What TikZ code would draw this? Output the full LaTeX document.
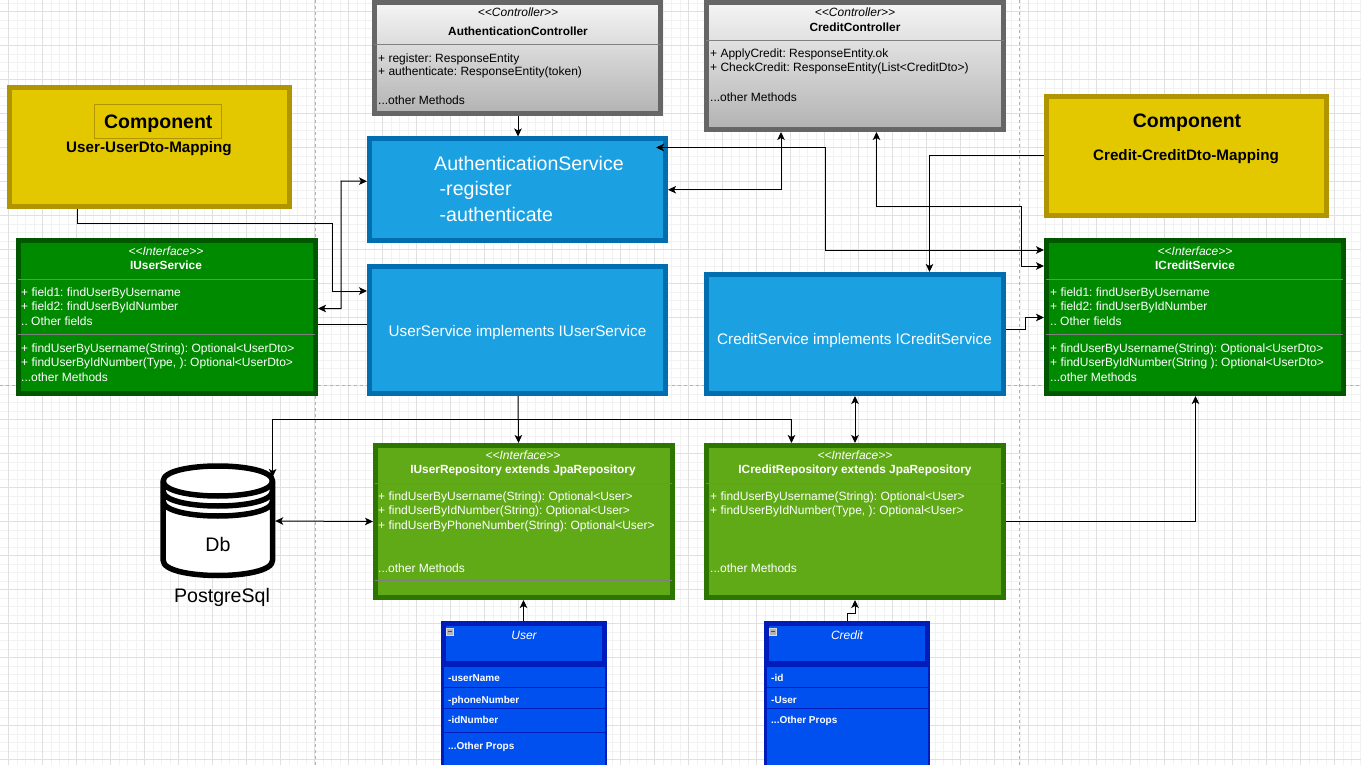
\documentclass[tikz,border=0pt]{standalone}
\usepackage{fontspec}
\setmainfont{Liberation Sans}
\usetikzlibrary{arrows.meta}
\definecolor{yfill}{HTML}{E3C800}
\definecolor{yline}{HTML}{B09500}
\definecolor{gfill}{HTML}{008A00}
\definecolor{gline}{HTML}{005700}
\definecolor{lfill}{HTML}{60A917}
\definecolor{lline}{HTML}{2D7600}
\definecolor{bfill}{HTML}{1BA1E2}
\definecolor{bline}{HTML}{006EAF}
\definecolor{ufill}{HTML}{0050EF}
\definecolor{uline}{HTML}{001DBC}
\definecolor{cline}{HTML}{666666}
\newcommand{\guil}[1]{<{}<#1>{}>}
\newcommand{\fsz}[1]{\frenchspacing\fontsize{#1}{#1}\selectfont}
\tikzset{
  >={Stealth[length=8pt,width=7.5pt,inset=2pt]},
  panel/.style={rectangle,draw,line width=5pt,inset sep,minimum width=#1},
  inset sep/.style={inner sep=0pt},
  yellowbox/.style={panel=280pt,minimum height=119pt,draw=yline,fill=yfill},
  greenbox/.style={panel=297pt,minimum height=153pt,draw=gline,fill=gfill},
  limebox/.style={panel=297pt,minimum height=152pt,draw=lline,fill=lfill},
  bluebox/.style={panel=296pt,draw=bline,fill=bfill},
  ctrlbox/.style={panel=286pt,draw=cline,top color=black!4,bottom color=black!30},
  conn/.style={draw=black,line width=1pt,->},
  bothconn/.style={draw=black,line width=1pt,<->},
  plainconn/.style={draw=black,line width=1pt},
  divider/.style={draw=black!50,line width=1pt},
  base/.style={inset sep,text height=.9em,text depth=0pt},
  bigbase/.style={inset sep,text height=1.35em,text depth=0pt},
  lw/.style={base,anchor=west,text=white,font=\fsz{12}},
  lk/.style={base,anchor=west,text=black,font=\fsz{12}},
  cw/.style={base,text=white,font=\fsz{12}},
  ck/.style={base,text=black,font=\fsz{12}},
  rowtxt/.style={base,anchor=west,text=white,font=\fsz{10}\bfseries},
  rowsep/.style={draw=uline,line width=1pt},
}
\begin{document}
\begin{tikzpicture}[x=1pt,y=-1pt]
\clip (0,0) rectangle (1361,765);
\fill[white] (0,0) rectangle (1361,765);
% grid
\foreach \i in {0,...,160} \draw[black!5,line width=.8pt] ({8.5+8.5*\i},0) -- ({8.5+8.5*\i},765);
\foreach \i in {0,...,90} \draw[black!5,line width=.8pt] (0,{3+8.5*\i}) -- (1361,{3+8.5*\i});
\foreach \i in {0,...,39} \draw[black!12,line width=.9pt] ({8.5+34*\i},0) -- ({8.5+34*\i},765);
\foreach \i in {0,...,22} \draw[black!12,line width=.9pt] (0,{11.5+34*\i}) -- (1361,{11.5+34*\i});
% page breaks
\draw[black!30,line width=1pt,dash pattern=on 3pt off 3pt] (315,0) -- (315,765);
\draw[black!30,line width=1pt,dash pattern=on 3pt off 3pt] (1019,0) -- (1019,765);
\draw[black!30,line width=1pt,dash pattern=on 3pt off 3pt] (0,385) -- (1361,385);

% mapping components
\node[yellowbox] (um) at (149.5,147) {};
\node[bigbase,draw=yline,line width=1pt,minimum width=127pt,minimum height=34pt,font=\fsz{19.5}\bfseries] (umc) at (158.3,121.5) {Component};
\node[base,font=\fsz{15.2}\bfseries] (umt) at (149,148) {User-UserDto-Mapping};
\node[yellowbox] (cm) at (1186.5,156) {};
\node[bigbase,font=\fsz{19.5}\bfseries] (cmc) at (1187,121) {Component};
\node[base,font=\fsz{15.2}\bfseries] (cmt) at (1186,156) {Credit-CreditDto-Mapping};

% controllers
\node[ctrlbox,minimum height=111pt] (ac) at (517.5,58) {};
\draw[divider] (374,44.5) -- (661,44.5);
\node[ck,font=\fsz{12}\itshape] (ac1) at (518,12.5) {\guil{Controller}};
\node[ck,font=\fsz{11.85}\bfseries] (ac2) at (518,31) {AuthenticationController};
\node[lk] (ac3) at (378,58) {+ register: ResponseEntity};
\node[lk] (ac4) at (378,71) {+ authenticate: ResponseEntity(token)};
\node[lk] (ac5) at (378,100) {...other Methods};

\node[ctrlbox,panel=297pt,minimum height=127pt] (cc) at (855,66) {};
\draw[divider] (706,41) -- (1004,41);
\node[ck,font=\fsz{12}\itshape] (cc1) at (855,12.5) {\guil{Controller}};
\node[ck,font=\fsz{11.85}\bfseries] (cc2) at (855,27) {CreditController};
\node[lk] (cc3) at (710,53.5) {+ ApplyCredit: ResponseEntity.ok};
\node[lk] (cc4) at (710,67.5) {+ CheckCredit: ResponseEntity(List<CreditDto>)};
\node[lk] (cc5) at (710,97) {...other Methods};

% services
\node[bluebox,minimum height=101.5pt] (as) at (517.5,189.75) {};
\node[bigbase,text=white,font=\fsz{19.6}] (as1) at (529,164) {AuthenticationService};
\node[bigbase,anchor=west,text=white,font=\fsz{19.6}] (as2) at (439.5,188.5) {-register};
\node[bigbase,anchor=west,text=white,font=\fsz{19.6}] (as3) at (439.5,215) {-authenticate};
\node[bluebox,minimum height=127pt] (us) at (517.5,330) {};
\node[base,text=white,font=\fsz{15.3}] (us1) at (517.5,332) {UserService implements IUserService};
\node[bluebox,panel=297pt,minimum height=119pt] (cs) at (855,334) {};
\node[base,text=white,font=\fsz{15.3}] (cs1) at (854.5,340) {CreditService implements ICreditService};

% service interfaces
\node[greenbox] (ius) at (167,317) {};
\draw[divider] (18,279) -- (315,279);
\draw[divider] (18,334.5) -- (315,334.5);
\node[cw,font=\fsz{12}\itshape] (ius1) at (166,251) {\guil{Interface}};
\node[cw,font=\fsz{11.85}\bfseries] (ius2) at (166,265) {IUserService};
\node[lw] (ius3) at (21,292) {+ field1: findUserByUsername};
\node[lw] (ius4) at (21,306) {+ field2: findUserByIdNumber};
\node[lw] (ius5) at (21,321) {.. Other fields};
\node[lw] (ius6) at (21,348) {+ findUserByUsername(String): Optional<UserDto>};
\node[lw] (ius7) at (21,362) {+ findUserByIdNumber(Type, ): Optional<UserDto>};
\node[lw] (ius8) at (21,377) {...other Methods};

\node[greenbox] (ics) at (1195,317) {};
\draw[divider] (1046,279) -- (1343,279);
\draw[divider] (1046,334.5) -- (1343,334.5);
\node[cw,font=\fsz{12}\itshape] (ics1) at (1195,251) {\guil{Interface}};
\node[cw,font=\fsz{11.85}\bfseries] (ics2) at (1195,265) {ICreditService};
\node[lw] (ics3) at (1050,292) {+ field1: findUserByUsername};
\node[lw] (ics4) at (1050,306) {+ field2: findUserByIdNumber};
\node[lw] (ics5) at (1050,321) {.. Other fields};
\node[lw] (ics6) at (1050,348) {+ findUserByUsername(String): Optional<UserDto>};
\node[lw] (ics7) at (1050,362) {+ findUserByIdNumber(String ): Optional<UserDto>};
\node[lw] (ics8) at (1050,377) {...other Methods};

% repositories
\node[limebox] (iur) at (524,521.5) {};
\draw[divider] (375,483) -- (672,483);
\draw[divider] (375,580.5) -- (672,580.5);
\node[cw,font=\fsz{12}\itshape] (iur1) at (523,455) {\guil{Interface}};
\node[cw,font=\fsz{11.85}\bfseries] (iur2) at (523,469) {IUserRepository extends JpaRepository};
\node[lw] (iur3) at (378,496) {+ findUserByUsername(String): Optional<User>};
\node[lw] (iur4) at (378,510) {+ findUserByIdNumber(String): Optional<User>};
\node[lw] (iur5) at (378,525) {+ findUserByPhoneNumber(String): Optional<User>};
\node[lw] (iur6) at (378,568) {...other Methods};

\node[limebox] (icr) at (855,521.5) {};
\draw[divider] (706,483) -- (1004,483);
\node[cw,font=\fsz{12}\itshape] (icr1) at (855,455) {\guil{Interface}};
\node[cw,font=\fsz{11.85}\bfseries] (icr2) at (855,469) {ICreditRepository extends JpaRepository};
\node[lw] (icr3) at (710,496) {+ findUserByUsername(String): Optional<User>};
\node[lw] (icr4) at (710,510) {+ findUserByIdNumber(Type, ): Optional<User>};
\node[lw] (icr5) at (710,568) {...other Methods};

% entities
\node[rectangle,draw=uline,fill=ufill,line width=2.5pt,inset sep,minimum width=163.5pt,minimum height=140pt] (ubody) at (524,736) {};
\draw[rowsep] (443,687.7) -- (605,687.7);
\draw[rowsep] (443,708.2) -- (605,708.2);
\draw[rowsep] (443,732.7) -- (605,732.7);
\node[rectangle,draw=uline,fill=ufill,line width=5pt,inset sep,minimum width=161pt,minimum height=40pt] (user) at (524,643.5) {};
\draw[fill=black!30,draw=black!15,line width=1pt] (446.5,628) rectangle (453.5,635);
\draw[black!70,line width=1pt] (448,631.5) -- (452,631.5);
\node[cw,font=\fsz{12}\itshape] (user1) at (524,635) {User};
\node[rowtxt] (user2) at (448,676.5) {-userName};
\node[rowtxt] (user3) at (448,698.5) {-phoneNumber};
\node[rowtxt] (user4) at (448,718.5) {-idNumber};
\node[rowtxt] (user5) at (448,744.5) {...Other Props};

\node[rectangle,draw=uline,fill=ufill,line width=2.5pt,inset sep,minimum width=163.5pt,minimum height=140pt] (cbody) at (847,736) {};
\draw[rowsep] (766,687.7) -- (928,687.7);
\draw[rowsep] (766,708.2) -- (928,708.2);
\node[rectangle,draw=uline,fill=ufill,line width=5pt,inset sep,minimum width=161pt,minimum height=40pt] (credit) at (847,643.5) {};
\draw[fill=black!30,draw=black!15,line width=1pt] (769.5,628) rectangle (776.5,635);
\draw[black!70,line width=1pt] (771,631.5) -- (775,631.5);
\node[cw,font=\fsz{12}\itshape] (credit1) at (847,635) {Credit};
\node[rowtxt] (credit2) at (771,676.5) {-id};
\node[rowtxt] (credit3) at (771,698.5) {-User};
\node[rowtxt] (credit4) at (771,718.5) {...Other Props};

% database
\node[rectangle,inset sep,minimum width=114pt,minimum height=114pt] (db) at (218,521) {};
\draw[fill=white,draw=black,line width=5.5pt,line join=round]
  (163.2,481) .. controls (163.2,461) and (272.5,461) .. (272.5,481)
  -- (272.5,560.5) .. controls (272.5,580.5) and (163.2,580.5) .. (163.2,560.5) -- cycle;
\draw[black,line width=5.5pt] (163.2,481) .. controls (163.2,501) and (272.5,501) .. (272.5,481);
\draw[black,line width=5.5pt] (163.2,491) .. controls (163.2,511) and (272.5,511) .. (272.5,491);
\draw[black,line width=5.5pt] (163.2,501) .. controls (163.2,521) and (272.5,521) .. (272.5,501);
\node[bigbase,font=\fsz{19.6}] (dbt) at (218,545) {Db};
\node[bigbase,font=\fsz{19.6}] (dbl) at (222,596) {PostgreSql};

% connectors
\draw[conn] ([xshift=.5pt]ac.south) -- ([xshift=.5pt]as.north);
\draw[conn] ([xshift=-72pt]um.south) -- ++(0,14.5) -- (332.5,223.5) -- (332.5,291) -- ([yshift=39pt]us.west);
\draw[bothconn] ([yshift=8.5pt]ius.east) -- (341,308.5) -- (341,181) -- ([yshift=8.5pt]as.west);
\draw[plainconn] ([yshift=-7pt]ius.east) -- ([yshift=6pt]us.west);
\draw[bothconn] (as.east) -- (781,189.75) -- ([xshift=-74pt]cc.south);
\draw[bothconn] ([xshift=-12pt,yshift=-11pt]as.north east) -- (825.5,147.5) -- (825.5,250) -- ([yshift=67pt]ics.west);
\draw[bothconn] ([xshift=21.5pt]cc.south) -- (876.5,206.5) -- (1021,206.5) -- (1021,266) -- ([yshift=51pt]ics.west);
\draw[conn] ([yshift=.3pt]cm.west) -- (929.5,155.7) -- ([xshift=74.5pt]cs.north);
\draw[conn] ([yshift=5pt]cs.east) -- (1025,329) -- (1025,317.5) -- ([yshift=-.5pt]ics.west);
\draw[conn] ([xshift=.5pt]us.south) -- ([xshift=-5.5pt]iur.north);
\draw[bothconn] ([xshift=54.6pt,yshift=44pt]db.center) -- (272.6,419.5) -- (791.5,419.5) -- ([xshift=-63.5pt]icr.north);
\draw[bothconn] (db.east) -- (iur.west);
\draw[bothconn] (cs.south) -- (icr.north);
\draw[conn] (icr.east) -- (1195.5,521.5) -- ([xshift=.5pt]ics.south);
\draw[conn] ([xshift=-.5pt]user.north) -- ([xshift=-.5pt]iur.south);
\draw[conn] (credit.north) -- (847,613) -- (855,613) -- (icr.south);
\end{tikzpicture}
\end{document}
